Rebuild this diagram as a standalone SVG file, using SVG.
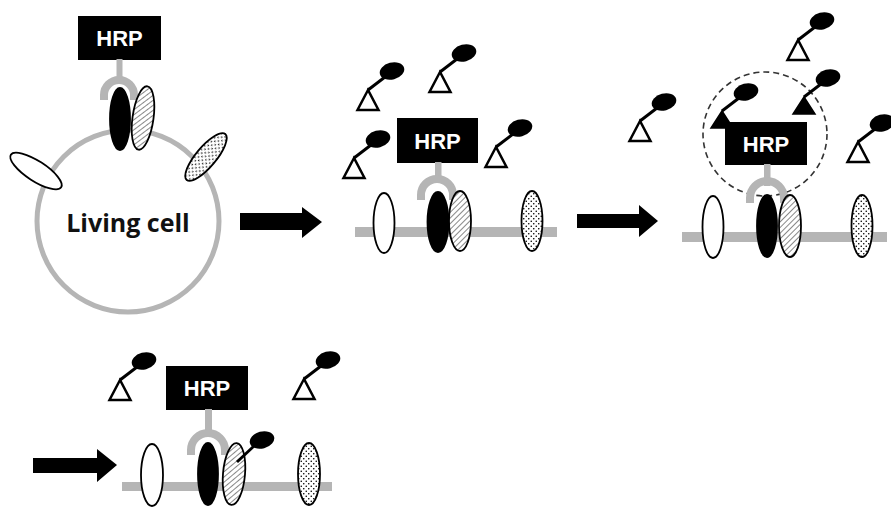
<svg xmlns="http://www.w3.org/2000/svg" xmlns:xlink="http://www.w3.org/1999/xlink" width="891" height="507" viewBox="0 0 891 507">
  <style>
    .membrane { fill: #b5b5b5; }
    .cellwall { fill: none; stroke: #b5b5b5; stroke-width: 5; }
    .arc { fill: none; stroke: #b5b5b5; stroke-width: 8; }
    .stem { fill: #b5b5b5; }
    .hrpbox { fill: #000; }
    .hrptext { fill: #fff; font-family: "Liberation Sans", Arial, sans-serif; font-weight: bold; font-size: 22px; text-anchor: middle; }
    .label { fill: #111; font-family: "Open Sans", "Liberation Sans", sans-serif; font-weight: bold; font-size: 25px; text-anchor: middle; }
    .ag-open { fill: #fff; stroke: #000; stroke-width: 1.8; }
    .ag-black { fill: #000; stroke: #000; stroke-width: 1.8; }
    .ag-hatch { fill: url(#hatch); stroke: #000; stroke-width: 1.8; }
    .ag-dots { fill: url(#dots); stroke: #000; stroke-width: 1.8; }
    .arrow { fill: #000; }
    .halo { fill: none; stroke: #333; stroke-width: 1.6; stroke-dasharray: 6 4; }
  </style>
  <defs>
    <pattern id="hatch" width="4" height="4" patternUnits="userSpaceOnUse" patternTransform="rotate(45)">
      <rect width="4" height="4" fill="#fff"/>
      <line x1="0" y1="0" x2="0" y2="4" stroke="#555" stroke-width="1.4"/>
    </pattern>
    <pattern id="dots" width="5" height="5" patternUnits="userSpaceOnUse">
      <rect width="5" height="5" fill="#fff"/>
      <circle cx="1.25" cy="1.25" r="0.8" fill="#000"/>
      <circle cx="3.75" cy="3.75" r="0.8" fill="#000"/>
    </pattern>
    <!-- tyramide probe: head + linker + open triangle, apex at origin -->
    <g id="probe-open">
      <line x1="0" y1="0" x2="17" y2="-13" stroke="#000" stroke-width="3"/>
      <ellipse cx="24" cy="-19" rx="12.5" ry="8.5" transform="rotate(-15 24 -19)" fill="#000"/>
      <polygon points="0,0 -10.5,20 10.5,20" fill="#fff" stroke="#000" stroke-width="2.5"/>
    </g>
    <!-- activated probe: filled triangle -->
    <g id="probe-active">
      <line x1="0" y1="0" x2="17" y2="-13" stroke="#000" stroke-width="3"/>
      <ellipse cx="24" cy="-19" rx="12.5" ry="8.5" transform="rotate(-15 24 -19)" fill="#000"/>
      <polygon points="0,0 -11,17 11,17" fill="#000" stroke="#000" stroke-width="1.5"/>
    </g>
  </defs>

  <!-- step 1: antibody-HRP bound on a living cell -->
  <g id="cell">
    <circle class="cellwall" cx="128" cy="221" r="91"/>
    <text class="label" x="128" y="232">Living cell</text>
    <ellipse class="ag-open" cx="36" cy="171" rx="30" ry="10" transform="rotate(33 36 171)"/>
    <ellipse class="ag-dots" cx="206" cy="157" rx="30" ry="10" transform="rotate(-50 206 157)"/>
  </g>
  <g id="hrp1">
    <rect class="hrpbox" x="78" y="16" width="83" height="44"/>
    <text class="hrptext" x="119.5" y="46">HRP</text>
    <rect class="stem" x="116.5" y="59" width="6" height="23"/>
    <path class="arc" d="M104,100 L104,95 A15,15 0 0 1 134,95 L134,100"/>
    <ellipse class="ag-black" cx="120" cy="119" rx="10" ry="31"/>
    <ellipse class="ag-hatch" cx="143" cy="118" rx="10.5" ry="32" transform="rotate(8 143 118)"/>
  </g>

  <!-- step 2: probes added -->
  <g id="membrane2">
    <rect class="membrane" x="355" y="227" width="202" height="10"/>
    <ellipse class="ag-open" cx="384" cy="223" rx="10.5" ry="30"/>
    <ellipse class="ag-dots" cx="532" cy="221" rx="10.5" ry="30"/>
  </g>
  <g id="hrp2">
    <rect class="hrpbox" x="397" y="118" width="81" height="45"/>
    <text class="hrptext" x="437.5" y="148.5">HRP</text>
    <rect class="stem" x="435" y="162" width="6.5" height="20"/>
    <path class="arc" d="M421,200 L421,195 A16,16 0 0 1 453,195 L453,200"/>
    <ellipse class="ag-black" cx="438" cy="222" rx="10.5" ry="30"/>
    <ellipse class="ag-hatch" cx="460" cy="221" rx="11" ry="30"/>
  </g>
  <g id="probes2">
    <use xlink:href="#probe-open" href="#probe-open" transform="translate(368 90)"/>
    <use xlink:href="#probe-open" href="#probe-open" transform="translate(440 72)"/>
    <use xlink:href="#probe-open" href="#probe-open" transform="translate(354 158)"/>
    <use xlink:href="#probe-open" href="#probe-open" transform="translate(496 147)"/>
  </g>

  <!-- step 3: HRP activates probes nearby -->
  <g id="membrane3">
    <rect class="membrane" x="682" y="232" width="205" height="10"/>
    <ellipse class="ag-open" cx="713" cy="227" rx="10.5" ry="31"/>
    <ellipse class="ag-dots" cx="862" cy="226" rx="10.5" ry="31"/>
  </g>
  <g id="hrp3">
    <circle class="halo" cx="765" cy="134" r="62"/>
    <use xlink:href="#probe-active" href="#probe-active" transform="translate(722 111)"/>
    <use xlink:href="#probe-active" href="#probe-active" transform="translate(804 97)"/>
    <rect class="hrpbox" x="725" y="122" width="82" height="43"/>
    <text class="hrptext" x="766" y="151.5">HRP</text>
    <rect class="stem" x="764" y="164" width="6.5" height="22"/>
    <path class="arc" d="M750,203 L750,198 A17,17 0 0 1 784,198 L784,203"/>
    <ellipse class="ag-black" cx="767" cy="226" rx="10" ry="31"/>
    <ellipse class="ag-hatch" cx="790" cy="226" rx="11" ry="31"/>
  </g>
  <g id="probes3">
    <use xlink:href="#probe-open" href="#probe-open" transform="translate(798 40)"/>
    <use xlink:href="#probe-open" href="#probe-open" transform="translate(640 121)"/>
    <use xlink:href="#probe-open" href="#probe-open" transform="translate(858 142)"/>
  </g>

  <!-- step 4: neighbour antigen labelled -->
  <g id="membrane4">
    <rect class="membrane" x="122" y="482" width="210" height="9"/>
    <ellipse class="ag-open" cx="152" cy="475" rx="11" ry="31"/>
    <ellipse class="ag-dots" cx="309" cy="474" rx="11" ry="31"/>
  </g>
  <g id="hrp4">
    <rect class="hrpbox" x="166" y="366" width="82" height="44"/>
    <text class="hrptext" x="207" y="396">HRP</text>
    <rect class="stem" x="205" y="409" width="7" height="22"/>
    <path class="arc" d="M191,455 L191,450 A17,17 0 0 1 225,450 L225,455"/>
    <ellipse class="ag-black" cx="208" cy="474" rx="10" ry="31"/>
    <ellipse class="ag-hatch" cx="234" cy="474" rx="11" ry="31" transform="rotate(5 234 474)"/>
    <line x1="237" y1="462" x2="254" y2="446" stroke="#000" stroke-width="3"/>
    <ellipse cx="262" cy="440" rx="12.5" ry="8.5" transform="rotate(-15 262 440)" fill="#000"/>
  </g>
  <g id="probes4">
    <use xlink:href="#probe-open" href="#probe-open" transform="translate(120 380)"/>
    <use xlink:href="#probe-open" href="#probe-open" transform="translate(304 379)"/>
  </g>

  <!-- step arrows -->
  <g id="connectors">
    <polygon class="arrow" points="240,213 302,213 302,207 322,222 302,238 302,230 240,230"/>
    <polygon class="arrow" points="577,214 639,214 639,205 658,221 639,237 639,228 577,228"/>
    <polygon class="arrow" points="33,458 97,458 97,449 117,465 97,482 97,473 33,473"/>
  </g>
</svg>
